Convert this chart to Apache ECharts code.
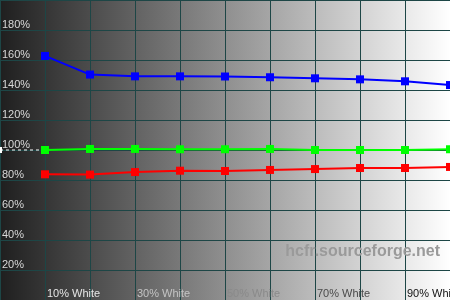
<!DOCTYPE html>
<html><head><meta charset="utf-8">
<script src="https://cdn.jsdelivr.net/npm/echarts@6/dist/echarts.min.js"></script>
<style>html,body{margin:0;padding:0;background:#fff}#c{width:450px;height:300px}</style>
</head><body><div id="c"></div>
<script>
var stimulus = [10, 20, 30, 40, 50, 60, 70, 80, 90, 100];
var blueVals  = [162.7, 150.3, 149.1, 149.1, 149.0, 148.5, 147.8, 147.1, 145.8, 143.3];
var greenVals = [100.0, 100.7, 100.7, 100.5, 100.5, 100.7, 100.0, 100.0, 100.0, 100.5];
var redVals   = [83.8, 83.6, 85.3, 86.2, 86.0, 86.7, 87.3, 88.0, 88.0, 88.7];
var refLine = [[0, 100], [9.3, 100]];
var xLabelColors = {10: '#e6e6e6', 30: '#c4c4c4', 50: '#8a8a8a', 70: '#4a4a4a', 90: '#111111'};

function pairs(v){ return stimulus.map(function(s,i){ return [s, v[i]]; }); }
function mk(name, color, vals){
  return {name:name, type:'line', data:pairs(vals), symbol:'rect', symbolSize:8,
    lineStyle:{color:color,width:2}, itemStyle:{color:color}, animation:false, clip:false, z:3};
}
var chart = echarts.init(document.getElementById('c'), null, {renderer:'canvas'});
chart.setOption({
  animation:false,
  backgroundColor:{type:'linear',x:0,y:0,x2:1,y2:0,colorStops:[{offset:0,color:'#1f1f1f'},{offset:1,color:'#ffffff'}]},
  grid:{left:0,right:0,top:0,bottom:0,containLabel:false,outerBoundsMode:'none'},
  xAxis:{type:'value',min:0,max:100,interval:10,
    axisLine:{show:false},axisTick:{show:false},
    splitLine:{show:true,lineStyle:{color:'#1d4646',width:1}},
    axisLabel:{inside:true,margin:1,align:'left',verticalAlign:'bottom',padding:[0,0,0,2],
      fontFamily:'Liberation Sans, Arial',fontSize:11,
      showMinLabel:true,showMaxLabel:false,
      formatter:function(v){ return (v%20===10)? v+'% White' : ''; },
      color:function(v){ return xLabelColors[v] || '#888'; }}
  },
  yAxis:{type:'value',min:0,max:200,interval:20,
    axisLine:{show:false},axisTick:{show:false},
    splitLine:{show:true,lineStyle:{color:'#1d4646',width:1}},
    axisLabel:{inside:true,margin:2,align:'left',verticalAlign:'bottom',padding:[0,0,0,0],
      fontFamily:'Liberation Sans, Arial',fontSize:11,color:'#d8d8d8',
      showMinLabel:false,showMaxLabel:false,
      formatter:function(v){ return v+'%'; }}
  },
  series:[
    {name:'ref',type:'line',data:refLine,symbol:'none',
      lineStyle:{color:'#ffffff',width:1,type:[3,3]},animation:false,z:2,
      markPoint:{symbol:'rect',symbolSize:[4,6],itemStyle:{color:'#ffffff'},label:{show:false},
        data:[{coord:refLine[0]}]}},
    mk('Green','#00ff00',greenVals),
    mk('Red','#ff0000',redVals),
    mk('Blue','#0000ff',blueVals)
  ],
  graphic:[{type:'text',right:10,top:244,z:1,
    style:{text:'hcfr.sourceforge.net',font:'bold 16px "Liberation Sans", Arial',fill:'#9a9a9a'}}]
});
</script></body></html>
